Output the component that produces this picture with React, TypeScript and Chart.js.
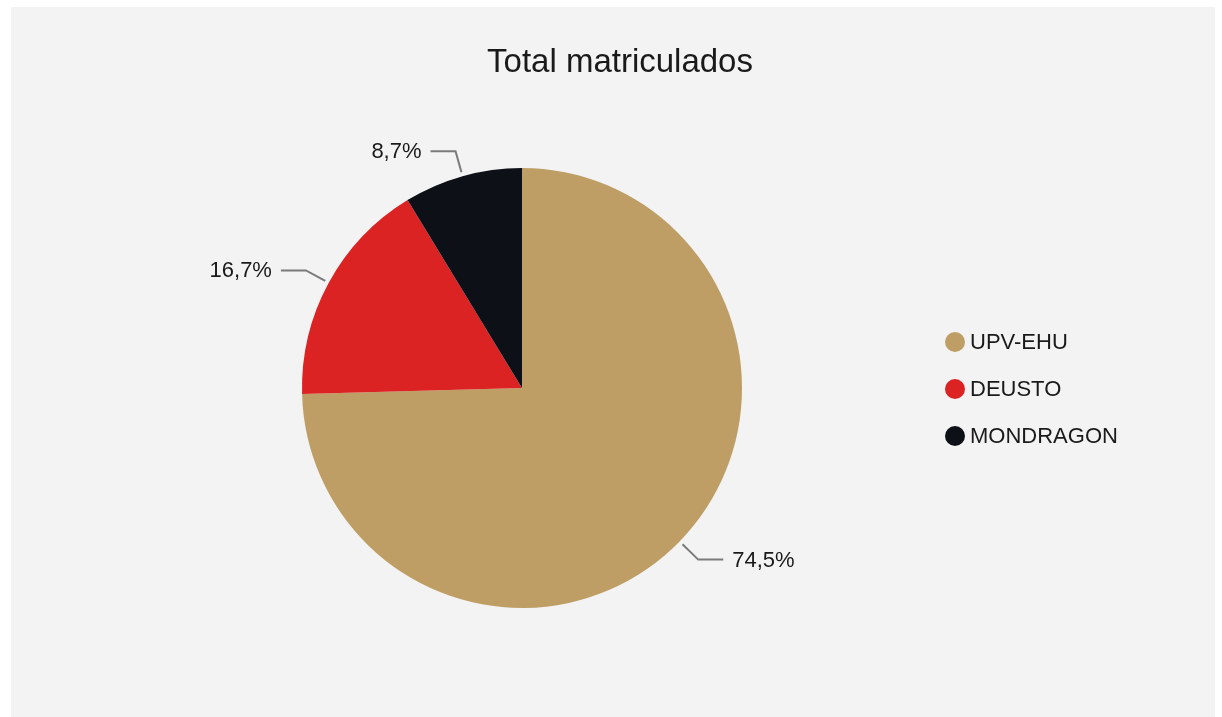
import React, { useEffect, useRef } from "react";
import { Chart, registerables } from "chart.js";

Chart.register(...registerables);

const TITLE = "Total matriculados";
const categories = ["UPV-EHU", "DEUSTO", "MONDRAGON"];
const shares = [74.5, 16.7, 8.7];
const colors = ["#bf9e66", "#dc2323", "#0d1016"];

const FONT = "'Liberation Sans', Arial, sans-serif";
const TEXT_COLOR = "#1a1a1a";

function fmt(v: number) {
  return v.toFixed(1).replace(".", ",") + "%";
}

const overlayPlugin = {
  id: "overlay",
  afterDraw(chart: any) {
    const ctx = chart.ctx as CanvasRenderingContext2D;
    const meta = chart.getDatasetMeta(0);
    ctx.save();
    // title
    ctx.fillStyle = TEXT_COLOR;
    ctx.font = `33px ${FONT}`;
    ctx.textAlign = "center";
    ctx.textBaseline = "alphabetic";
    ctx.fillText(TITLE, 620, 72);

    // outside labels with leader lines
    ctx.font = `22px ${FONT}`;
    meta.data.forEach((arc: any, i: number) => {
      const p = arc.getProps(["x", "y", "startAngle", "endAngle", "outerRadius"], true);
      const mid = (p.startAngle + p.endAngle) / 2;
      const cx = Math.cos(mid);
      const cy = Math.sin(mid);
      const r0 = p.outerRadius + 4;
      const r1 = p.outerRadius + 26;
      const sx = p.x + cx * r0;
      const sy = p.y + cy * r0;
      const ex = p.x + cx * r1;
      const ey = p.y + cy * r1;
      const dir = cx >= 0 ? 1 : -1;
      const hx = ex + dir * 25;
      ctx.strokeStyle = "#7a7a7a";
      ctx.lineWidth = 2;
      ctx.beginPath();
      ctx.moveTo(sx, sy);
      ctx.lineTo(ex, ey);
      ctx.lineTo(hx, ey);
      ctx.stroke();
      ctx.fillStyle = TEXT_COLOR;
      ctx.textBaseline = "middle";
      ctx.textAlign = dir > 0 ? "left" : "right";
      ctx.fillText(fmt(shares[i]), hx + dir * 9, ey + 1);
    });

    // legend
    ctx.textAlign = "left";
    ctx.textBaseline = "middle";
    categories.forEach((c, i) => {
      const y = 342 + i * 47;
      ctx.fillStyle = colors[i];
      ctx.beginPath();
      ctx.arc(955, y, 10, 0, Math.PI * 2);
      ctx.fill();
      ctx.fillStyle = TEXT_COLOR;
      ctx.fillText(c, 970, y + 1);
    });
    ctx.restore();
  },
};

export default function App() {
  const ref = useRef<HTMLCanvasElement | null>(null);
  useEffect(() => {
    if (!ref.current) return;
    const chart = new Chart(ref.current, {
      type: "pie",
      data: {
        labels: categories,
        datasets: [
          {
            data: shares,
            backgroundColor: colors,
            borderWidth: 0,
          },
        ],
      },
      options: {
        animation: false,
        responsive: false,
        maintainAspectRatio: false,
        layout: { padding: { left: 302, right: 480, top: 168, bottom: 109 } },
        plugins: {
          legend: { display: false },
          title: { display: false },
          tooltip: { enabled: false },
        },
      },
      plugins: [overlayPlugin],
    });
    return () => chart.destroy();
  }, []);
  return (
    <div style={{ position: "fixed", left: 0, top: 0, width: 1222, height: 717, background: "#ffffff", overflow: "hidden" }}>
      <div style={{ position: "absolute", left: 11, top: 7, width: 1204, height: 720, background: "#f3f3f3" }} />
      <canvas ref={ref} width={1222} height={717} style={{ position: "absolute", left: 0, top: 0, width: 1222, height: 717 }} />
    </div>
  );
}
